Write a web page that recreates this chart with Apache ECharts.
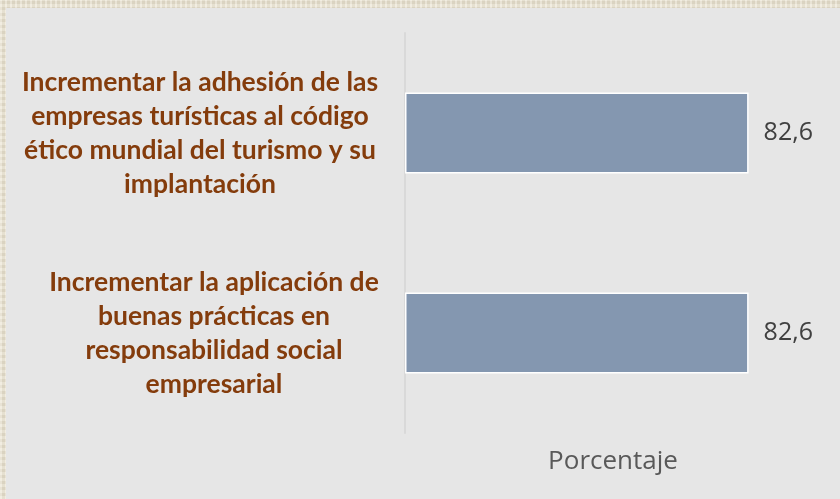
<!DOCTYPE html>
<html>
<head>
<meta charset="utf-8">
<script src="https://cdn.jsdelivr.net/npm/echarts@6/dist/echarts.min.js"></script>
<style>
  html, body { margin: 0; padding: 0; }
  body {
    width: 840px; height: 499px;
    background-color: #e8e1cd;
    background-image:
      repeating-linear-gradient(90deg, rgba(255,255,255,0.25) 0 2px, rgba(0,0,0,0.03) 2px 5px),
      repeating-linear-gradient(0deg, rgba(255,255,255,0.2) 0 3px, rgba(0,0,0,0.03) 3px 6px);
  }
  #main { position: absolute; left: 6px; top: 8px; width: 834px; height: 491px; background: #e6e6e6; }
</style>
</head>
<body>
<div id="main"></div>
<script>
  // datos
  var categorias = [
    'Incrementar la adhesión de las\nempresas turísticas al código\nético mundial del turismo y su\nimplantación',
    'Incrementar la aplicación de\nbuenas prácticas en\nresponsabilidad social\nempresarial'
  ];
  var valores = [82.6, 82.6];
  var nombreEje = 'Porcentaje';

  var estiloEtiqueta = {
    fontFamily: 'Lato',
    fontWeight: 'bold',
    fontSize: 26.5,
    lineHeight: 34,
    color: '#843c0c'
  };

  var chart = echarts.init(document.getElementById('main'));
  chart.setOption({
    animation: false,
    grid: { left: 399, right: 19, top: 25, bottom: 66 },
    xAxis: {
      type: 'value',
      min: 0,
      max: 100,
      name: nombreEje,
      nameLocation: 'middle',
      nameGap: 16,
      nameTextStyle: { fontFamily: 'Open Sans', fontSize: 26, color: '#595959' },
      axisLine: { show: false },
      axisTick: { show: false },
      axisLabel: { show: false },
      splitLine: { show: false }
    },
    yAxis: {
      type: 'category',
      inverse: true,
      data: categorias,
      axisLine: { show: true, lineStyle: { color: '#d9d9d9', width: 2 } },
      axisTick: { show: false },
      axisLabel: {
        margin: 205,
        align: 'center',
        fontFamily: 'Lato',
        fontWeight: 'bold',
        fontSize: 26.5,
        lineHeight: 34,
        color: '#843c0c',
        // la segunda etiqueta va un poco más a la derecha
        formatter: function (v, i) {
          return (i === 1 ? '{b|' : '{a|') + v.split('\n').join('}\n' + (i === 1 ? '{b|' : '{a|')) + '}';
        },
        rich: {
          a: estiloEtiqueta,
          b: Object.assign({ padding: [0, 0, 0, 28] }, estiloEtiqueta)
        }
      }
    },
    series: [{
      type: 'bar',
      data: valores,
      barWidth: 81,
      itemStyle: { color: '#8497b0', borderColor: '#ffffff', borderWidth: 1.5 },
      label: {
        show: true,
        position: 'right',
        distance: 15,
        fontFamily: 'Open Sans',
        fontSize: 25,
        color: '#404040',
        formatter: function (p) { return String(p.value).replace('.', ','); }
      }
    }]
  });
</script>
</body>
</html>
